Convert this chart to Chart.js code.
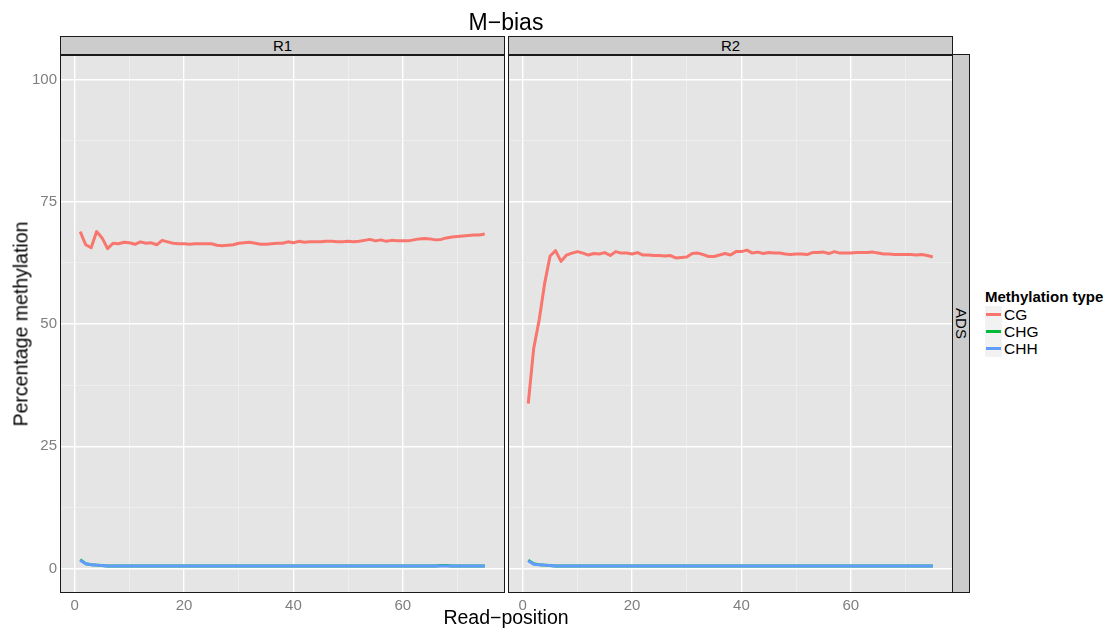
<!DOCTYPE html>
<html>
<head>
<meta charset="utf-8">
<script src="https://cdn.jsdelivr.net/npm/chart.js@4"></script>
<style>
  body { margin: 0; width: 1110px; height: 628px; position: relative; overflow: hidden; background: #fff;
         font-family: "Liberation Sans", Arial, sans-serif; }
  canvas { position: absolute; top: 0; }
  .strip { position: absolute; background: #cccccc; border: 1px solid #1a1a1a; box-sizing: border-box;
           font-size: 15px; color: #000; display: flex; align-items: center; justify-content: center; }
  .txt { position: absolute; white-space: nowrap; color: #000; }
  .key { position: absolute; left: 985px; width: 17px; height: 17px; background: #f2f2f2; }
  .key i { position: absolute; left: 1px; right: 1px; top: 7px; height: 3px; display: block; }
  .lab { position: absolute; left: 1004px; font-size: 15.5px; color: #000; line-height: 17px; }
</style>
</head>
<body>
<canvas id="r1" width="505" height="628" style="left:0"></canvas>
<canvas id="r2" width="445" height="628" style="left:508px"></canvas>

<div class="txt" style="left:0;width:1012px;top:9px;text-align:center;font-size:23px;">M−bias</div>
<div class="strip" style="left:60px;top:36px;width:445px;height:19px;">R1</div>
<div class="strip" style="left:508px;top:36px;width:445px;height:19px;">R2</div>
<div class="strip" style="left:952px;top:54px;width:18px;height:539px;"><span style="transform:rotate(90deg);display:inline-block;">ADS</span></div>
<div class="txt" style="left:0;width:1012px;top:606px;text-align:center;font-size:19.5px;">Read−position</div>
<div class="txt" style="left:21px;top:324px;font-size:19.5px;transform:translate(-50%,-50%) rotate(-90deg);">Percentage methylation</div>

<div class="txt" style="left:985px;top:288px;font-size:15px;font-weight:bold;">Methylation type</div>
<div class="key" style="top:306px"><i style="background:#F8766D"></i></div>
<div class="lab" style="top:306px">CG</div>
<div class="key" style="top:323px"><i style="background:#00BA38"></i></div>
<div class="lab" style="top:323px">CHG</div>
<div class="key" style="top:340px"><i style="background:#619CFF"></i></div>
<div class="lab" style="top:340px">CHH</div>

<script>
const positions = Array.from({ length: 75 }, (_, i) => i + 1)
const xTicks = [0, 10, 20, 30, 40, 50, 60, 70]
const yTicks = [0, 12.5, 25, 37.5, 50, 62.5, 75, 87.5, 100]
const xLabels = [0, 20, 40, 60]
const yLabels = [0, 25, 50, 75, 100]

const r1CG = [68.9, 66.2, 65.6, 68.9, 67.6, 65.4, 66.5, 66.4, 66.7, 66.6,
    66.3, 66.8, 66.5, 66.6, 66.2, 67.1, 66.8, 66.5, 66.4, 66.4,
    66.3, 66.4, 66.4, 66.4, 66.4, 66.1, 66.0, 66.1, 66.2, 66.5,
    66.6, 66.7, 66.5, 66.3, 66.3, 66.4, 66.5, 66.5, 66.8, 66.6,
    66.9, 66.7, 66.8, 66.8, 66.8, 66.9, 66.9, 66.8, 66.8, 66.9,
    66.8, 66.9, 67.1, 67.3, 67.0, 67.2, 66.9, 67.1, 67.0, 67.0,
    67.0, 67.2, 67.4, 67.5, 67.4, 67.2, 67.3, 67.6, 67.8, 67.9,
    68.0, 68.1, 68.2, 68.2, 68.4]
const r1CHG = [1.8, 1.0, 0.8, 0.7, 0.6, 0.5, 0.5, 0.5, 0.5, 0.5,
    0.5, 0.5, 0.5, 0.5, 0.5, 0.5, 0.5, 0.5, 0.5, 0.5,
    0.5, 0.5, 0.5, 0.5, 0.5, 0.5, 0.5, 0.5, 0.5, 0.5,
    0.5, 0.5, 0.5, 0.5, 0.5, 0.5, 0.5, 0.5, 0.5, 0.5,
    0.5, 0.5, 0.5, 0.5, 0.5, 0.5, 0.5, 0.5, 0.5, 0.5,
    0.5, 0.5, 0.5, 0.5, 0.5, 0.5, 0.5, 0.5, 0.5, 0.5,
    0.5, 0.5, 0.5, 0.5, 0.5, 0.5, 0.6, 0.6, 0.5, 0.5,
    0.5, 0.5, 0.5, 0.5, 0.5]
const r1CHH = [1.7, 1.0, 0.8, 0.7, 0.6, 0.5, 0.5, 0.5, 0.5, 0.5,
    0.5, 0.5, 0.5, 0.5, 0.5, 0.5, 0.5, 0.5, 0.5, 0.5,
    0.5, 0.5, 0.5, 0.5, 0.5, 0.5, 0.5, 0.5, 0.5, 0.5,
    0.5, 0.5, 0.5, 0.5, 0.5, 0.5, 0.5, 0.5, 0.5, 0.5,
    0.5, 0.5, 0.5, 0.5, 0.5, 0.5, 0.5, 0.5, 0.5, 0.5,
    0.5, 0.5, 0.5, 0.5, 0.5, 0.5, 0.5, 0.5, 0.5, 0.5,
    0.5, 0.5, 0.5, 0.5, 0.5, 0.5, 0.5, 0.5, 0.5, 0.5,
    0.5, 0.5, 0.5, 0.5, 0.5]

const r2CG = [33.7, 45.0, 50.8, 58.3, 63.9, 65.0, 62.8, 64.1, 64.5, 64.8,
    64.5, 64.1, 64.4, 64.3, 64.6, 64.0, 64.8, 64.5, 64.5, 64.3,
    64.6, 64.1, 64.1, 64.0, 64.0, 63.9, 64.0, 63.5, 63.6, 63.7,
    64.4, 64.5, 64.2, 63.8, 63.8, 64.1, 64.4, 64.1, 64.8, 64.8,
    65.1, 64.5, 64.7, 64.4, 64.6, 64.5, 64.5, 64.3, 64.2, 64.3,
    64.3, 64.2, 64.6, 64.6, 64.7, 64.4, 64.8, 64.5, 64.5, 64.5,
    64.6, 64.6, 64.6, 64.7, 64.5, 64.3, 64.3, 64.2, 64.2, 64.2,
    64.2, 64.1, 64.2, 64.0, 63.7]
const r2CHG = [1.7, 1.0, 0.8, 0.7, 0.6, 0.5, 0.5, 0.5, 0.5, 0.5,
    0.5, 0.5, 0.5, 0.5, 0.5, 0.5, 0.5, 0.5, 0.5, 0.5,
    0.5, 0.5, 0.5, 0.5, 0.5, 0.5, 0.5, 0.5, 0.5, 0.5,
    0.5, 0.5, 0.5, 0.5, 0.5, 0.5, 0.5, 0.5, 0.5, 0.5,
    0.5, 0.5, 0.5, 0.5, 0.5, 0.5, 0.5, 0.5, 0.5, 0.5,
    0.5, 0.5, 0.5, 0.5, 0.5, 0.5, 0.5, 0.5, 0.5, 0.5,
    0.5, 0.5, 0.5, 0.5, 0.5, 0.5, 0.5, 0.5, 0.5, 0.5,
    0.5, 0.5, 0.5, 0.5, 0.5]
const r2CHH = [1.6, 0.9, 0.8, 0.7, 0.6, 0.5, 0.5, 0.5, 0.5, 0.5,
    0.5, 0.5, 0.5, 0.5, 0.5, 0.5, 0.5, 0.5, 0.5, 0.5,
    0.5, 0.5, 0.5, 0.5, 0.5, 0.5, 0.5, 0.5, 0.5, 0.5,
    0.5, 0.5, 0.5, 0.5, 0.5, 0.5, 0.5, 0.5, 0.5, 0.5,
    0.5, 0.5, 0.5, 0.5, 0.5, 0.5, 0.5, 0.5, 0.5, 0.5,
    0.5, 0.5, 0.5, 0.5, 0.5, 0.5, 0.5, 0.5, 0.5, 0.5,
    0.5, 0.5, 0.5, 0.5, 0.5, 0.5, 0.5, 0.5, 0.5, 0.5,
    0.5, 0.5, 0.5, 0.5, 0.5]

const colors = { CG: '#F8766D', CHG: '#00BA38', CHH: '#619CFF' }

// grey panel behind, black frame on top
const panelPlugin = {
    id: 'panel',
    beforeDraw(chart) {
        const a = chart.chartArea, ctx = chart.ctx
        ctx.save()
        ctx.fillStyle = '#e5e5e5'
        ctx.fillRect(a.left, a.top, a.right - a.left, a.bottom - a.top)
        ctx.restore()
    },
    afterDraw(chart) {
        const a = chart.chartArea, ctx = chart.ctx
        ctx.save()
        ctx.strokeStyle = '#1a1a1a'
        ctx.lineWidth = 1
        ctx.strokeRect(a.left + 0.5, a.top + 0.5, a.right - a.left - 1, a.bottom - a.top - 1)
        ctx.restore()
    }
}

// order: CHH drawn last (on top), like ggplot's layer order
const series = (cg, chg, chh) => [
    { label: 'CG', data: cg, borderColor: colors.CG, order: 2 },
    { label: 'CHG', data: chg, borderColor: colors.CHG, order: 1 },
    { label: 'CHH', data: chh, borderColor: colors.CHH, order: 0 }
].map(s => ({
    ...s,
    data: s.data.map((v, i) => ({ x: positions[i], y: v })),
    borderWidth: 3, pointRadius: 0, tension: 0, borderJoinStyle: 'round', borderCapStyle: 'butt'
}))

const gridColor = (labels) => (ctx) => labels.includes(ctx.tick.value) ? '#ffffff' : '#f2f2f2'
const gridWidth = (labels) => (ctx) => labels.includes(ctx.tick.value) ? 1.4 : 0.7
const tickFont = { family: '"Liberation Sans", Arial, sans-serif', size: 15 }

function makeChart(id, data, showY) {
    return new Chart(document.getElementById(id), {
        type: 'line',
        data: { datasets: data },
        plugins: [panelPlugin],
        options: {
            responsive: false,
            animation: false,
            layout: { padding: { top: 55, left: 0, right: 0, bottom: 0 } },
            plugins: { legend: { display: false }, tooltip: { enabled: false } },
            scales: {
                x: {
                    type: 'linear', min: -2.7, max: 78.7,
                    afterBuildTicks: s => { s.ticks = xTicks.map(v => ({ value: v })) },
                    afterFit: s => { s.height = 35 },
                    border: { display: false },
                    grid: { color: gridColor(xLabels), lineWidth: gridWidth(xLabels), drawTicks: false },
                    ticks: {
                        color: '#7f7f7f', font: tickFont, padding: 4, maxRotation: 0, autoSkip: false,
                        callback: v => xLabels.includes(v) ? String(v) : ''
                    }
                },
                y: {
                    type: 'linear', min: -5, max: 105,
                    afterBuildTicks: s => { s.ticks = yTicks.map(v => ({ value: v })) },
                    afterFit: s => { s.width = showY ? 60 : 0 },
                    border: { display: false },
                    grid: { color: gridColor(yLabels), lineWidth: gridWidth(yLabels), drawTicks: false },
                    ticks: {
                        display: showY, color: '#7f7f7f', font: tickFont, padding: 3, autoSkip: false,
                        callback: v => yLabels.includes(v) ? String(v) : ''
                    }
                }
            }
        }
    })
}

makeChart('r1', series(r1CG, r1CHG, r1CHH), true)
makeChart('r2', series(r2CG, r2CHG, r2CHH), false)
</script>
</body>
</html>
